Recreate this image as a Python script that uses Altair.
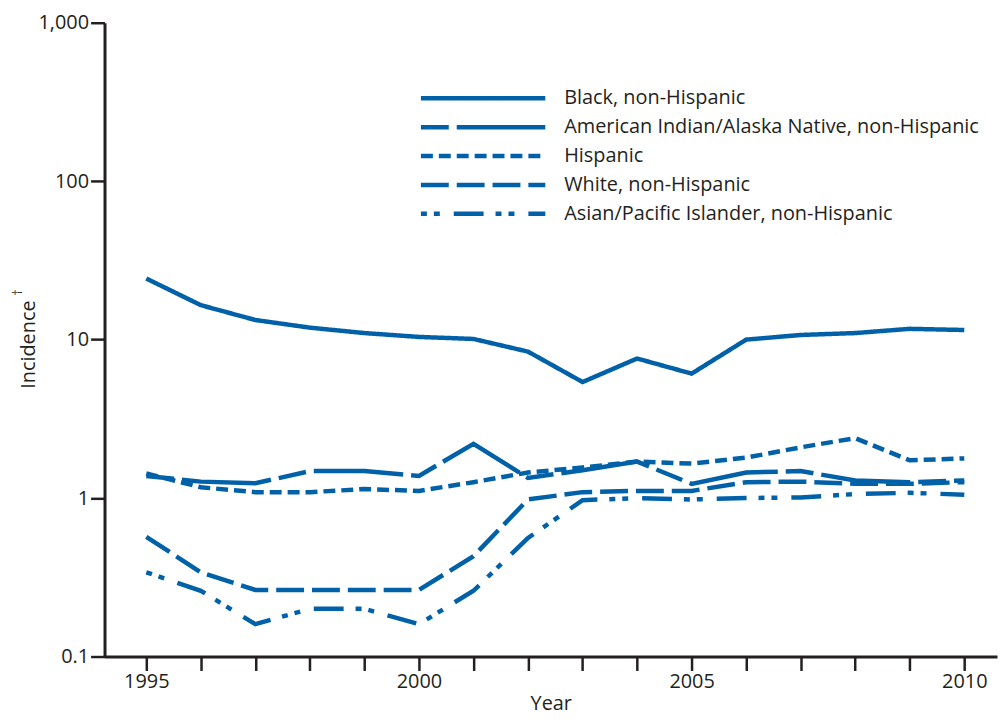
import altair as alt
import pandas as pd

years = list(range(1995, 2011))
black = [24.3, 16.5, 13.3, 11.9, 11.0, 10.4, 10.1, 8.4, 5.4, 7.6, 6.1, 10.0, 10.7, 11.0, 11.7, 11.5]
aian = [1.38, 1.27, 1.24, 1.48, 1.48, 1.38, 2.2, 1.34, 1.5, 1.7, 1.23, 1.45, 1.48, 1.29, 1.26, 1.29]
hispanic = [1.43, 1.17, 1.09, 1.09, 1.14, 1.11, 1.26, 1.45, 1.56, 1.70, 1.65, 1.80, 2.09, 2.39, 1.73, 1.78]
white = [0.57, 0.34, 0.263, 0.263, 0.263, 0.263, 0.43, 0.98, 1.09, 1.11, 1.11, 1.26, 1.27, 1.23, 1.23, 1.26]
asian = [0.34, 0.26, 0.16, 0.20, 0.20, 0.16, 0.26, 0.56, 0.97, 1.0, 0.98, 1.0, 1.01, 1.06, 1.08, 1.05]

series_names = [
    "Black, non-Hispanic",
    "American Indian/Alaska Native, non-Hispanic",
    "Hispanic",
    "White, non-Hispanic",
    "Asian/Pacific Islander, non-Hispanic",
]
series_values = [black, aian, hispanic, white, asian]
dashes = [[1, 0], [28, 8, 90, 8], [12, 6], [28, 8], [6, 7, 6, 14, 30, 12]]

y_ticks = [0.1, 1, 10, 100, 1000]

BLUE = "#0061A9"
INK = "#231F20"
FONT = "Open Sans"
FS = 20

rows = []
for name, vals in zip(series_names, series_values):
    for yr, v in zip(years, vals):
        rows.append({"year": yr, "value": v, "race": name})
df = pd.DataFrame(rows)

lines = alt.Chart(df).mark_line(color=BLUE, strokeWidth=4.5, strokeCap="butt", strokeJoin="miter").encode(
    x=alt.X("year:Q",
            scale=alt.Scale(domain=[1994.234, 2010.6], nice=False, zero=False),
            axis=alt.Axis(values=years, labelExpr="datum.value % 5 == 0 ? datum.value : ''",
                          title="Year", grid=False, tickSize=14, tickWidth=2.5, domainWidth=3,
                          domainColor=INK, tickColor=INK, labelColor=INK, titleColor=INK,
                          labelFont=FONT, titleFont=FONT, labelFontSize=FS, titleFontSize=FS,
                          titleFontWeight="normal", labelPadding=1, titlePadding=2)),
    y=alt.Y("value:Q",
            scale=alt.Scale(type="log", domain=[0.1, 1000], nice=False),
            axis=alt.Axis(values=y_ticks,
                          labelExpr="datum.value < 1 ? '0.1' : format(datum.value, ',')",
                          title="Incidence", grid=False, tickSize=14, tickWidth=2.5, domainWidth=3,
                          domainColor=INK, tickColor=INK, labelColor=INK, titleColor=INK,
                          labelFont=FONT, titleFont=FONT, labelFontSize=FS, titleFontSize=FS,
                          titleFontWeight="normal", labelPadding=2,
                          titleX=-70, titleY=323, titleAngle=270, titleBaseline="alphabetic",
                          titleAlign="center")),
    strokeDash=alt.StrokeDash("race:N", scale=alt.Scale(domain=series_names, range=dashes), legend=None),
    detail="race:N",
)

dagger = alt.Chart(pd.DataFrame({"t": ["\u2020"]})).mark_text(
    font=FONT, fontSize=12, color=INK, angle=270, align="center", baseline="alphabetic"
).encode(x=alt.value(-83), y=alt.value(271), text="t:N")

layers = [lines, dagger]
leg_x0, leg_x1, leg_tx = 318, 443, 462
leg_y = [76, 105, 134, 163, 192]
for name, d, yy in zip(series_names, dashes, leg_y):
    layers.append(
        alt.Chart(pd.DataFrame({"label": [name]})).mark_rule(color=BLUE, strokeWidth=4.5, strokeDash=d, strokeCap="butt").encode(
            x=alt.value(leg_x0), x2=alt.value(leg_x1), y=alt.value(yy)
        )
    )
    layers.append(
        alt.Chart(pd.DataFrame({"label": [name]})).mark_text(align="left", baseline="middle", font=FONT, fontSize=FS, color=INK).encode(
            x=alt.value(leg_tx), y=alt.value(yy), text="label:N"
        )
    )

chart = alt.layer(*layers).properties(
    width=897, height=637,
    autosize=alt.AutoSizeParams(type="none"),
    padding={"left": 97, "top": 13, "right": 2, "bottom": 64},
).configure_view(stroke=None)

chart.save("out.html", embed_options={"renderer": "svg", "actions": False})
